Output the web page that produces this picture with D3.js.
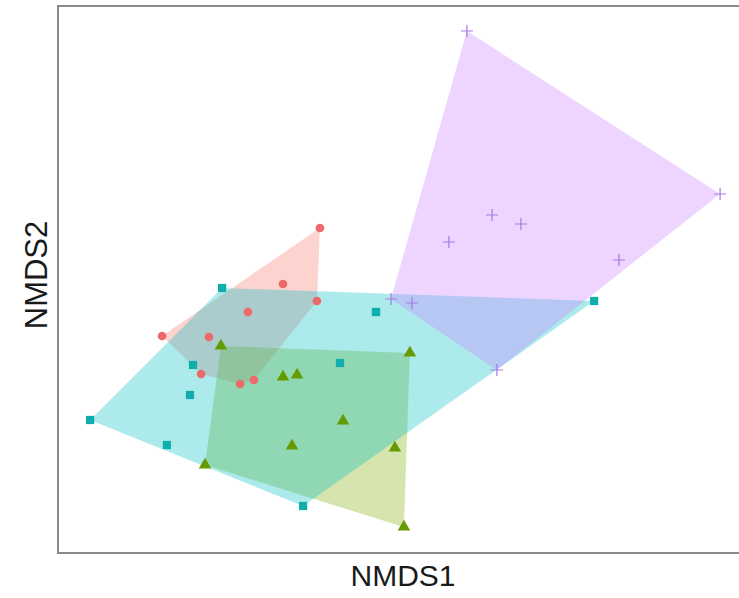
<!DOCTYPE html>
<html>
<head>
<meta charset="utf-8">
<script src="https://cdn.jsdelivr.net/npm/d3@7"></script>
<style>
  html, body { margin: 0; padding: 0; background: #ffffff; }
  svg { display: block; }
</style>
</head>
<body>
<svg id="chart" width="739" height="598"></svg>
<script>
// NMDS ordination scores, one array per group
const groups = ["A", "B", "C", "D"];
const groupColors = ["#F8766D", "#7CAE00", "#00BFC4", "#C77CFF"];
const pointColors = ["#EC6A6C", "#659B00", "#0FADAB", "#A57AE6"];

const groupA_x = [-0.267, -0.390, -0.277, -0.507, -0.793, -0.637, -0.663, -0.533, -0.487];
const groupA_y = [ 0.288,  0.064, -0.004, -0.048, -0.144, -0.148, -0.296, -0.336, -0.320];

const groupB_x = [-0.597, -0.390, -0.343, -0.190, -0.360, -0.650,  0.033, -0.017,  0.013];
const groupB_y = [-0.184, -0.308, -0.300, -0.484, -0.584, -0.660, -0.212, -0.592, -0.908];

const groupC_x = [-0.593, -0.080, -0.200, -0.690, -0.700, -1.033, -0.777, -0.323,  0.647];
const groupC_y = [ 0.048, -0.048, -0.252, -0.260, -0.380, -0.480, -0.580, -0.824, -0.004];

const groupD_x = [ 0.223,  1.067,  0.307,  0.403,  0.163,  0.730, -0.030,  0.040,  0.323];
const groupD_y = [ 1.076,  0.424,  0.340,  0.304,  0.232,  0.160,  0.004, -0.012, -0.280];

const axisTitles = ["NMDS1", "NMDS2"];

const seriesX = [groupA_x, groupB_x, groupC_x, groupD_x];
const seriesY = [groupA_y, groupB_y, groupC_y, groupD_y];
const data = groups.map((g, i) => ({
  group: g,
  color: groupColors[i],
  pointColor: pointColors[i],
  points: seriesX[i].map((x, j) => ({ x: x, y: seriesY[i][j] }))
}));

const svg = d3.select("#chart");
const panel = { left: 58, top: 6, right: 760, bottom: 553 };

const x = d3.scaleLinear().domain([-1.14, 1.2]).range([58, 760]);
const y = d3.scaleLinear().domain([-1.012, 1.176]).range([553, 6]);

// panel background
svg.append("rect")
  .attr("x", panel.left).attr("y", panel.top)
  .attr("width", panel.right - panel.left).attr("height", panel.bottom - panel.top)
  .attr("fill", "#ffffff");

const plot = svg.append("g");

// convex hull per group
data.forEach(d => {
  const hull = d3.polygonHull(d.points.map(p => [x(p.x), y(p.y)]));
  plot.append("path")
    .attr("d", "M" + hull.join("L") + "Z")
    .attr("fill", d.color)
    .attr("fill-opacity", 0.32)
    .attr("stroke", "none");
});

// points
const shapes = [d3.symbolCircle, d3.symbolTriangle, d3.symbolSquare, null];
const sizes = [60, 68, 68, 0];
data.forEach((d, i) => {
  const g = plot.append("g");
  if (shapes[i]) {
    g.selectAll("path").data(d.points).join("path")
      .attr("transform", p => `translate(${x(p.x)},${y(p.y)})`)
      .attr("d", d3.symbol().type(shapes[i]).size(sizes[i]))
      .attr("fill", d.pointColor);
  } else {
    g.selectAll("path").data(d.points).join("path")
      .attr("transform", p => `translate(${x(p.x)},${y(p.y)})`)
      .attr("d", "M-6,0H6M0,-6V6")
      .attr("stroke", d.pointColor)
      .attr("stroke-width", 1.2)
      .attr("fill", "none");
  }
});

// panel border
svg.append("rect")
  .attr("x", panel.left).attr("y", panel.top)
  .attr("width", panel.right - panel.left).attr("height", panel.bottom - panel.top)
  .attr("fill", "none")
  .attr("stroke", "#8a8a8a")
  .attr("stroke-width", 2);

// axis titles
svg.append("text")
  .attr("x", 403).attr("y", 586)
  .attr("text-anchor", "middle")
  .attr("font-family", "Liberation Sans, Arial, sans-serif")
  .attr("font-size", 30)
  .attr("fill", "#1a1a1a")
  .text(axisTitles[0]);

svg.append("text")
  .attr("transform", "translate(47,275) rotate(-90)")
  .attr("text-anchor", "middle")
  .attr("font-family", "Liberation Sans, Arial, sans-serif")
  .attr("font-size", 31)
  .attr("fill", "#1a1a1a")
  .text(axisTitles[1]);
</script>
</body>
</html>
